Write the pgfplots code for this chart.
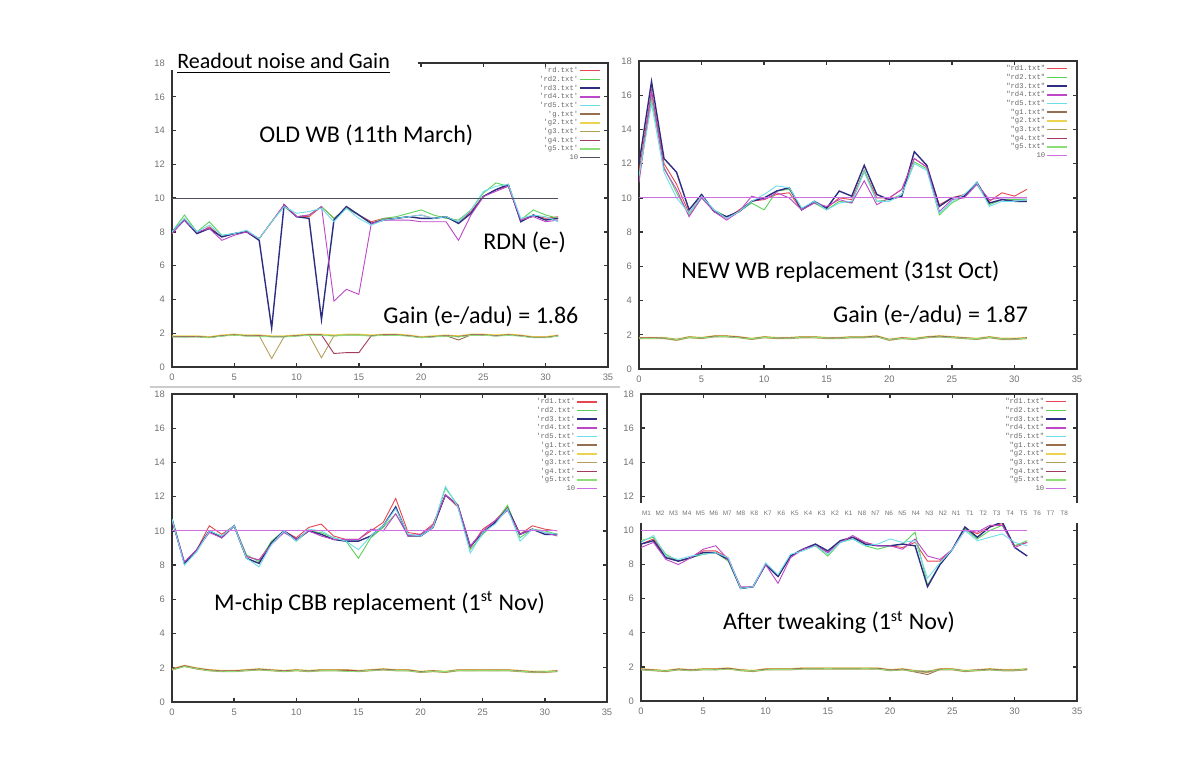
\documentclass[border=0pt]{standalone}
\usepackage{pgfplots}
\usepackage{pgfplotstable}
\pgfplotsset{compat=1.18}
\usepackage{fontspec}
\setmainfont{Carlito}
\newfontfamily\legfont{Liberation Mono}
\newfontfamily\ticfont{Liberation Sans}

\definecolor{c1}{RGB}{230,70,80}
\definecolor{c2}{RGB}{90,210,90}
\definecolor{c3}{RGB}{45,45,130}
\definecolor{c4}{RGB}{190,70,200}
\definecolor{c5}{RGB}{110,220,235}
\definecolor{c6}{RGB}{150,110,80}
\definecolor{c7}{RGB}{235,210,80}
\definecolor{c8}{RGB}{180,160,90}
\definecolor{c9}{RGB}{160,60,90}
\definecolor{c10}{RGB}{140,220,120}
\definecolor{tenA}{RGB}{80,80,100}
\definecolor{tenB}{RGB}{205,110,225}

\newcommand{\sq}[1]{\textquotesingle#1\textquotesingle}
\newcommand{\dq}[1]{\textquotedbl#1\textquotedbl}

% rows = series, columns = channel 0..31
\pgfplotstableread{
name 0 1 2 3 4 5 6 7 8 9 10 11 12 13 14 15 16 17 18 19 20 21 22 23 24 25 26 27 28 29 30 31
rd1 7.9 8.8 7.9 8.3 7.7 7.9 8.0 7.6 8.6 9.6 8.9 8.9 9.5 8.8 9.4 9.0 8.6 8.8 8.8 8.9 9.0 8.8 8.9 8.6 9.2 10.1 10.5 10.7 8.7 9.0 8.8 8.9
rd2 8.0 9.0 8.0 8.6 7.8 7.9 8.0 7.6 8.6 9.5 8.9 9.0 9.5 8.8 9.4 9.0 8.5 8.8 8.9 9.1 9.3 9.0 8.8 8.7 9.3 10.3 10.9 10.7 8.7 9.3 9.0 8.8
rd3 8.0 8.7 7.9 8.2 7.7 7.9 8.0 7.5 2.3 9.6 8.9 8.8 2.8 8.7 9.5 9.0 8.5 8.7 8.8 8.9 8.8 8.8 8.9 8.5 9.1 10.1 10.5 10.8 8.6 9.0 8.7 8.8
rd4 7.9 8.7 8.0 8.2 7.5 7.8 8.0 7.6 8.6 9.6 8.9 9.0 9.5 3.9 4.6 4.3 8.5 8.7 8.7 8.7 8.6 8.6 8.6 7.5 9.0 10.1 10.4 10.7 8.7 8.9 8.6 8.7
rd5 8.0 8.8 8.0 8.4 7.8 7.9 8.1 7.6 8.6 9.5 9.1 9.2 9.4 8.6 9.4 8.8 8.4 8.7 8.8 8.9 9.0 8.8 8.9 8.6 9.3 10.4 10.7 10.8 8.8 9.0 8.9 8.6
g1 1.80 1.80 1.80 1.75 1.85 1.90 1.85 1.85 1.80 1.80 1.85 1.90 1.90 1.85 1.90 1.90 1.85 1.90 1.90 1.85 1.75 1.80 1.85 1.60 1.90 1.90 1.85 1.90 1.85 1.75 1.75 1.85
g2 1.85 1.85 1.85 1.80 1.90 1.95 1.90 1.90 1.85 1.85 1.90 1.95 1.95 1.90 1.95 1.95 1.90 1.95 1.95 1.90 1.80 1.85 1.90 1.85 1.95 1.95 1.90 1.95 1.90 1.80 1.80 1.90
g3 1.80 1.80 1.80 1.75 1.85 1.90 1.85 1.85 0.50 1.80 1.85 1.90 0.55 1.85 1.90 1.90 1.85 1.90 1.90 1.85 1.75 1.80 1.85 1.80 1.90 1.90 1.85 1.90 1.85 1.75 1.75 1.85
g4 1.80 1.80 1.80 1.75 1.85 1.90 1.85 1.85 1.80 1.80 1.85 1.90 1.90 0.80 0.85 0.85 1.85 1.90 1.90 1.85 1.75 1.80 1.85 1.80 1.90 1.90 1.85 1.90 1.85 1.75 1.75 1.85
g5 1.78 1.77 1.78 1.73 1.83 1.88 1.83 1.82 1.78 1.78 1.83 1.87 1.88 1.83 1.88 1.87 1.83 1.88 1.87 1.83 1.73 1.78 1.83 1.78 1.87 1.88 1.83 1.87 1.83 1.73 1.73 1.83
}\rawA

\pgfplotstableread{
name 0 1 2 3 4 5 6 7 8 9 10 11 12 13 14 15 16 17 18 19 20 21 22 23 24 25 26 27 28 29 30 31
rd1 11.5 16.3 12.0 10.8 9.1 10.1 9.2 8.8 9.3 9.8 9.9 10.2 10.3 9.3 9.7 9.4 10.0 9.9 11.6 10.0 10.0 10.5 12.3 11.8 9.6 10.0 10.2 10.8 9.8 10.3 10.1 10.5
rd2 11.2 15.8 11.8 10.3 9.0 10.0 9.3 8.9 9.2 9.7 9.3 10.4 10.5 9.4 9.7 9.3 9.8 9.7 11.6 9.8 9.9 10.2 12.1 11.7 9.0 9.7 10.1 10.8 9.6 9.9 9.9 9.9
rd3 12.0 16.8 12.3 11.5 9.3 10.2 9.2 8.9 9.2 9.8 10.0 10.4 10.6 9.3 9.8 9.4 10.4 10.1 11.9 10.2 9.9 10.1 12.7 11.9 9.5 10.0 10.1 10.9 9.7 9.9 9.8 9.8
rd4 10.9 16.2 11.7 10.5 8.9 10.0 9.2 8.7 9.2 10.1 9.9 10.3 10.0 9.3 9.7 9.5 9.9 9.7 11.0 9.6 10.0 10.5 12.3 11.8 9.2 9.9 10.0 10.8 9.9 10.0 10.0 10.0
rd5 11.3 15.5 11.5 10.0 9.1 10.1 9.3 8.8 9.2 9.8 10.2 10.7 10.6 9.4 9.8 9.3 9.7 9.8 11.5 9.8 9.8 10.2 12.0 11.6 9.1 9.8 10.2 10.9 9.5 9.8 9.8 9.9
g1 1.80 1.80 1.80 1.70 1.85 1.80 1.90 1.90 1.85 1.75 1.85 1.80 1.80 1.85 1.85 1.80 1.80 1.85 1.85 1.90 1.70 1.80 1.75 1.85 1.90 1.85 1.80 1.75 1.85 1.75 1.75 1.80
g2 1.85 1.85 1.85 1.75 1.90 1.85 1.95 1.95 1.90 1.80 1.90 1.85 1.85 1.90 1.90 1.85 1.85 1.90 1.90 1.95 1.75 1.85 1.80 1.90 1.95 1.90 1.85 1.80 1.90 1.80 1.80 1.85
g3 1.77 1.77 1.77 1.67 1.82 1.77 1.87 1.87 1.82 1.72 1.82 1.77 1.77 1.82 1.82 1.77 1.77 1.82 1.82 1.87 1.67 1.77 1.72 1.82 1.87 1.82 1.77 1.72 1.82 1.72 1.72 1.77
g4 1.82 1.82 1.82 1.72 1.87 1.82 1.92 1.92 1.87 1.77 1.87 1.82 1.82 1.87 1.87 1.82 1.82 1.87 1.87 1.92 1.72 1.82 1.77 1.87 1.92 1.87 1.82 1.77 1.87 1.77 1.77 1.82
g5 1.80 1.78 1.82 1.72 1.85 1.82 1.88 1.90 1.83 1.77 1.85 1.82 1.80 1.86 1.85 1.82 1.80 1.86 1.86 1.88 1.72 1.80 1.77 1.85 1.88 1.85 1.80 1.77 1.85 1.77 1.75 1.80
}\rawB

\pgfplotstableread{
name 0 1 2 3 4 5 6 7 8 9 10 11 12 13 14 15 16 17 18 19 20 21 22 23 24 25 26 27 28 29 30 31
rd1 10.6 8.1 8.9 10.3 9.8 10.3 8.5 8.3 9.3 10.0 9.6 10.2 10.4 9.7 9.5 9.5 10.0 10.5 11.9 9.9 9.8 10.4 12.1 11.4 9.0 10.1 10.6 11.4 9.8 10.3 10.1 10.0
rd2 10.7 8.1 8.8 10.0 9.7 10.3 8.6 8.2 9.4 10.0 9.4 10.0 9.9 9.6 9.4 8.4 9.6 10.2 11.0 9.8 9.7 10.2 12.5 11.5 8.9 9.8 10.5 11.5 9.6 10.1 10.0 9.8
rd3 10.7 8.1 8.9 10.0 9.6 10.3 8.4 8.1 9.3 10.0 9.5 10.0 9.8 9.5 9.4 9.4 9.7 10.3 11.4 9.7 9.7 10.2 12.1 11.5 9.1 9.9 10.5 11.3 9.8 10.1 9.8 9.8
rd4 10.6 8.2 8.9 9.9 9.6 10.3 8.5 8.3 9.2 9.9 9.5 10.0 9.7 9.5 9.5 9.5 10.1 10.0 11.0 9.7 9.8 10.3 12.1 11.5 9.1 10.0 10.6 11.2 9.8 10.1 9.9 9.7
rd5 10.7 8.0 8.8 10.0 9.7 10.3 8.4 7.9 9.2 10.0 9.4 10.1 10.0 9.6 9.4 8.9 9.7 10.3 11.3 9.8 9.7 10.2 12.6 11.4 8.7 9.9 10.4 11.3 9.4 10.1 9.9 9.8
g1 1.90 2.10 1.95 1.85 1.80 1.80 1.85 1.90 1.85 1.80 1.85 1.80 1.85 1.85 1.85 1.80 1.85 1.90 1.85 1.85 1.75 1.80 1.75 1.85 1.85 1.85 1.85 1.85 1.80 1.75 1.75 1.80
g2 1.95 2.15 2.00 1.90 1.85 1.85 1.90 1.95 1.90 1.85 1.90 1.85 1.90 1.90 1.90 1.85 1.90 1.95 1.90 1.90 1.80 1.85 1.80 1.90 1.90 1.90 1.90 1.90 1.85 1.80 1.80 1.85
g3 1.87 2.07 1.92 1.82 1.77 1.77 1.82 1.87 1.82 1.77 1.82 1.77 1.82 1.82 1.82 1.77 1.82 1.87 1.82 1.82 1.72 1.77 1.72 1.82 1.82 1.82 1.82 1.82 1.77 1.72 1.72 1.77
g4 1.92 2.12 1.97 1.87 1.82 1.82 1.87 1.92 1.87 1.82 1.87 1.82 1.87 1.87 1.87 1.82 1.87 1.92 1.87 1.87 1.77 1.82 1.77 1.87 1.87 1.87 1.87 1.87 1.82 1.77 1.77 1.82
g5 1.88 2.08 1.95 1.83 1.80 1.78 1.85 1.88 1.85 1.78 1.85 1.80 1.83 1.85 1.78 1.80 1.85 1.88 1.85 1.83 1.75 1.80 1.77 1.85 1.83 1.85 1.83 1.85 1.80 1.75 1.77 1.80
}\rawC

\pgfplotstableread{
name 0 1 2 3 4 5 6 7 8 9 10 11 12 13 14 15 16 17 18 19 20 21 22 23 24 25 26 27 28 29 30 31
rd1 9.2 9.5 8.5 8.2 8.4 8.8 8.8 8.4 6.6 6.7 8.0 7.3 8.5 8.9 9.2 8.7 9.3 9.6 9.3 9.1 9.1 9.0 9.3 8.2 8.2 8.9 10.1 9.8 10.2 10.4 9.1 9.3
rd2 9.4 9.6 8.6 8.2 8.4 8.6 8.7 8.2 6.6 6.7 8.0 7.3 8.5 8.9 9.1 8.5 9.3 9.5 9.1 8.9 9.1 9.2 9.9 6.8 8.0 8.9 10.1 9.5 10.0 10.3 9.1 9.4
rd3 9.2 9.4 8.4 8.2 8.4 8.7 8.7 8.3 6.6 6.7 8.0 7.3 8.5 8.9 9.2 8.8 9.4 9.6 9.2 9.1 9.1 9.2 9.1 6.7 8.0 8.9 10.2 9.6 10.2 10.5 9.0 8.5
rd4 9.0 9.3 8.3 8.0 8.4 8.9 9.1 8.3 6.7 6.7 8.0 6.9 8.4 8.9 9.1 8.7 9.3 9.7 9.3 9.1 9.1 8.9 9.5 8.5 8.3 8.9 10.0 9.9 10.3 10.3 9.0 9.3
rd5 9.3 9.7 8.5 8.3 8.5 8.6 8.7 8.4 6.6 6.7 8.1 7.4 8.6 8.8 9.1 8.6 9.3 9.5 9.1 9.2 9.5 9.3 9.4 7.2 8.1 8.9 10.0 9.4 9.6 9.8 9.3 9.1
g1 1.85 1.80 1.75 1.85 1.80 1.85 1.85 1.90 1.80 1.75 1.85 1.85 1.85 1.90 1.90 1.90 1.90 1.90 1.90 1.90 1.80 1.85 1.70 1.55 1.85 1.85 1.75 1.80 1.85 1.80 1.80 1.85
g2 1.90 1.85 1.80 1.90 1.85 1.90 1.90 1.95 1.85 1.80 1.90 1.90 1.90 1.95 1.95 1.95 1.95 1.95 1.95 1.95 1.85 1.90 1.80 1.75 1.90 1.90 1.80 1.85 1.90 1.85 1.85 1.90
g3 1.82 1.77 1.72 1.82 1.77 1.82 1.82 1.87 1.77 1.72 1.82 1.82 1.82 1.87 1.87 1.87 1.87 1.87 1.87 1.87 1.77 1.82 1.72 1.67 1.82 1.82 1.72 1.77 1.82 1.77 1.77 1.82
g4 1.87 1.82 1.77 1.87 1.82 1.87 1.87 1.92 1.82 1.77 1.87 1.87 1.87 1.92 1.92 1.92 1.92 1.92 1.92 1.92 1.82 1.87 1.77 1.72 1.87 1.87 1.77 1.82 1.87 1.82 1.82 1.87
g5 1.83 1.80 1.77 1.83 1.80 1.85 1.83 1.88 1.80 1.77 1.83 1.85 1.85 1.88 1.88 1.90 1.88 1.88 1.90 1.88 1.80 1.83 1.77 1.75 1.83 1.85 1.77 1.80 1.83 1.80 1.80 1.88
}\rawD

\pgfplotstabletranspose[colnames from=name]\tabA\rawA
\pgfplotstabletranspose[colnames from=name]\tabB\rawB
\pgfplotstabletranspose[colnames from=name]\tabC\rawC
\pgfplotstabletranspose[colnames from=name]\tabD\rawD

\newcommand{\plotall}[2]{%
  \addplot[c1] table[x expr=\coordindex, y=rd1]{#1};
  \addplot[c2] table[x expr=\coordindex, y=rd2]{#1};
  \addplot[c3, line width=0.7pt] table[x expr=\coordindex, y=rd3]{#1};
  \addplot[c4] table[x expr=\coordindex, y=rd4]{#1};
  \addplot[c5] table[x expr=\coordindex, y=rd5]{#1};
  \addplot[c6] table[x expr=\coordindex, y=g1]{#1};
  \addplot[c7] table[x expr=\coordindex, y=g2]{#1};
  \addplot[c8] table[x expr=\coordindex, y=g3]{#1};
  \addplot[c9] table[x expr=\coordindex, y=g4]{#1};
  \addplot[c10] table[x expr=\coordindex, y=g5]{#1};
  \addplot[#2, line width=0.6pt] coordinates {(0,10) (31,10)};
}

\pgfplotsset{
  panel/.style={
    scale only axis, anchor=south west,
    xmin=0, xmax=35, ymin=0, ymax=18,
    xtick={0,5,...,35}, ytick={0,2,...,18},
    tick align=inside, major tick length=2pt,
    axis line style={line width=1.1pt, black!80},
    every tick/.style={black!80, line width=0.7pt},
    tick label style={font=\ticfont\fontsize{4.7}{5}\selectfont, text=black!55},
    /pgf/number format/assume math mode=true,
    legend plot pos=right,
    legend cell align=right,
    legend image code/.code={\draw[##1, line width=0.75pt] (0pt,0pt) -- (10pt,0pt);},
    legend style={draw=none, fill=none, anchor=north east, at={(1,1)},
      font=\legfont\fontsize{3.6}{4}\selectfont, text=black!60,
      row sep=0pt, inner sep=0pt,
      nodes={inner sep=0.45pt, text height=2.7pt, text depth=0.75pt}},
    every axis plot/.append style={line width=0.45pt},
  }
}

\begin{document}
\begin{tikzpicture}
\path[use as bounding box] (0,0) rectangle (595pt,380pt);
\draw[black!20, line width=0.8pt] (75pt,186.5pt) -- (310pt,186.5pt);

% Panel A: OLD WB
\begin{axis}[panel, at={(86pt,196.5pt)}, width=218pt, height=152pt,
  legend style={xshift=-3.5pt, yshift=-1.5pt},
  legend entries={\sq{rd.txt},\sq{rd2.txt},\sq{rd3.txt},\sq{rd4.txt},\sq{rd5.txt},\sq{g.txt},\sq{g2.txt},\sq{g3.txt},\sq{g4.txt},\sq{g5.txt},10}]
  \plotall{\tabA}{tenA}
  \node[font=\fontsize{12}{14}\selectfont] at (axis cs:15.6,13.7) {OLD WB (11th March)};
  \node[font=\fontsize{12}{14}\selectfont] at (axis cs:28.3,7.4) {RDN (e-)};
  \node[font=\fontsize{12}{14}\selectfont] at (axis cs:24.8,3.0) {Gain (e-/adu) = 1.86};
\end{axis}
\fill[white] (85pt,345pt) rectangle (209pt,352pt);
\node[anchor=base west, font=\fontsize{11}{13}\selectfont, inner sep=0pt] at (88.5pt,345.5pt) {\underline{Readout noise and Gain}};

% Panel B: NEW WB
\begin{axis}[panel, at={(319.5pt,195.5pt)}, width=219pt, height=154pt,
  legend style={xshift=-4.5pt, yshift=-1.5pt},
  legend entries={\dq{rd1.txt},\dq{rd2.txt},\dq{rd3.txt},\dq{rd4.txt},\dq{rd5.txt},\dq{g1.txt},\dq{g2.txt},\dq{g3.txt},\dq{g4.txt},\dq{g5.txt},10}]
  \plotall{\tabB}{tenB}
  \node[font=\fontsize{12}{14}\selectfont] at (axis cs:16.1,5.7) {NEW WB replacement (31st Oct)};
  \node[font=\fontsize{12}{14}\selectfont] at (axis cs:23.3,3.15) {Gain (e-/adu) = 1.87};
\end{axis}

% Panel C: M-chip CBB
\begin{axis}[panel, at={(86pt,29pt)}, width=217.5pt, height=154pt,
  legend style={xshift=-4.5pt, yshift=-1.5pt},
  legend entries={\sq{rd1.txt},\sq{rd2.txt},\sq{rd3.txt},\sq{rd4.txt},\sq{rd5.txt},\sq{g1.txt},\sq{g2.txt},\sq{g3.txt},\sq{g4.txt},\sq{g5.txt},10}]
  \plotall{\tabC}{tenB}
  \node[font=\fontsize{12}{14}\selectfont] at (axis cs:16.7,5.8) {M-chip CBB replacement (1\textsuperscript{st} Nov)};
\end{axis}

% Panel D: After tweaking
\begin{axis}[panel, at={(320.5pt,29.5pt)}, width=218pt, height=153.5pt,
  legend style={xshift=-5pt, yshift=-1.5pt},
  legend entries={\dq{rd1.txt},\dq{rd2.txt},\dq{rd3.txt},\dq{rd4.txt},\dq{rd5.txt},\dq{g1.txt},\dq{g2.txt},\dq{g3.txt},\dq{g4.txt},\dq{g5.txt},10}]
  \plotall{\tabD}{tenB}
  \node[font=\fontsize{12}{14}\selectfont] at (axis cs:15.9,4.6) {After tweaking (1\textsuperscript{st} Nov)};
\end{axis}
\fill[white] (318pt,118.5pt) rectangle (541pt,128.5pt);
\foreach \lab [count=\i from 0] in {M1,M2,M3,M4,M5,M6,M7,M8,K8,K7,K6,K5,K4,K3,K2,K1,N8,N7,N6,N5,N4,N3,N2,N1,T1,T2,T3,T4,T5,T6,T7,T8}
  \node[font=\ticfont\fontsize{3.2}{4}\selectfont, text=black!55, inner sep=0pt] at ({323.25pt+\i*6.735pt},123.5pt) {\lab};
\end{tikzpicture}
\end{document}
